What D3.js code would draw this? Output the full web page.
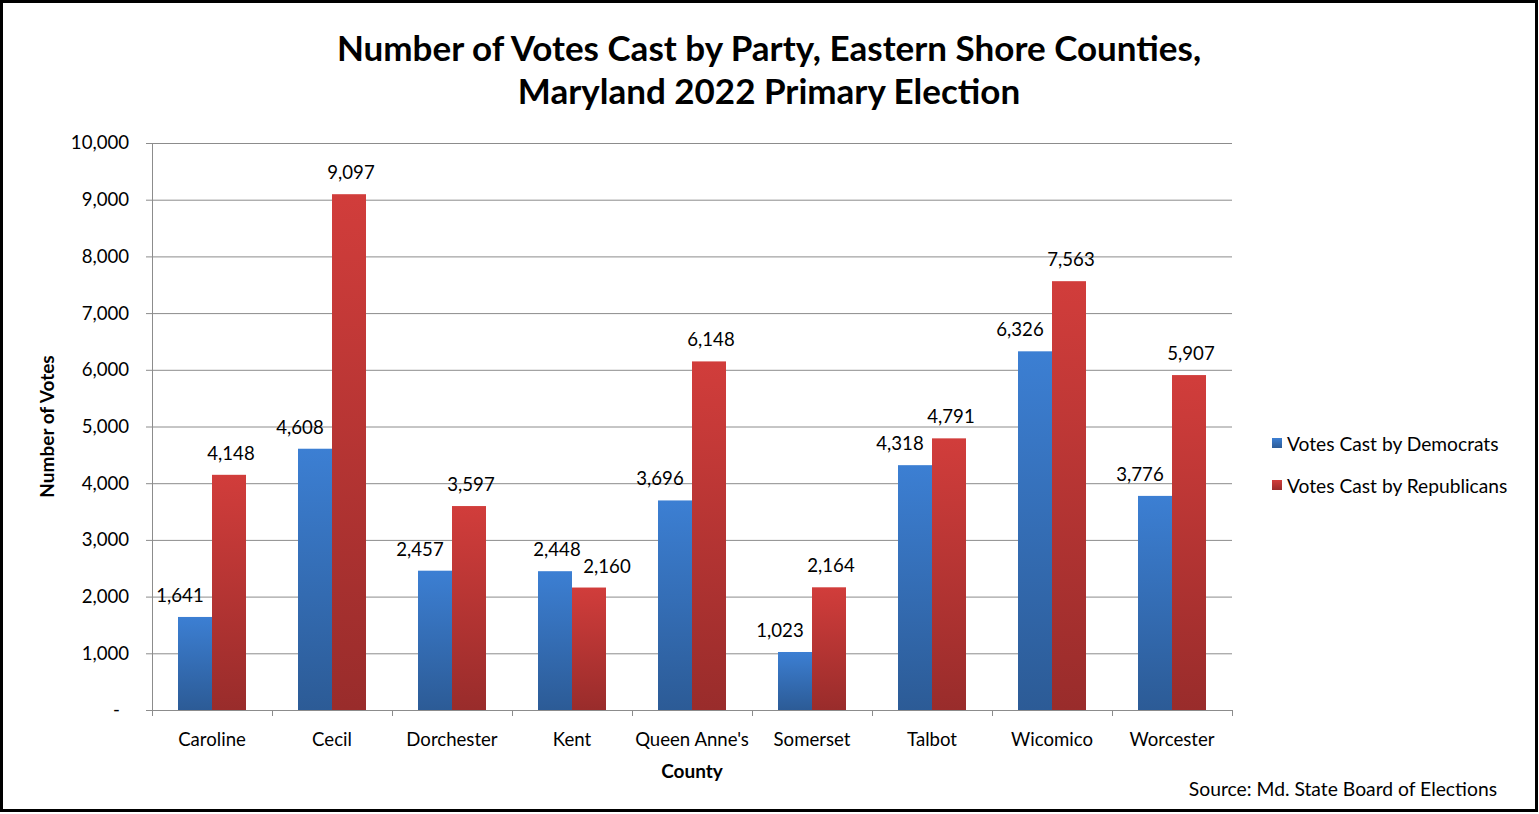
<!DOCTYPE html>
<html>
<head>
<meta charset="utf-8">
<script src="https://cdn.jsdelivr.net/npm/d3@7"></script>
<style>
  body { margin: 0; background: #fff; }
  svg { display: block; font-family: Lato, "Open Sans", sans-serif; }
</style>
</head>
<body>
<svg id="chart" width="1539" height="814"></svg>
<script>
// chart data
const counties = ["Caroline", "Cecil", "Dorchester", "Kent", "Queen Anne's", "Somerset", "Talbot", "Wicomico", "Worcester"];
const democrats = [1641, 4608, 2457, 2448, 3696, 1023, 4318, 6326, 3776];
const republicans = [4148, 9097, 3597, 2160, 6148, 2164, 4791, 7563, 5907];
const seriesNames = ["Votes Cast by Democrats", "Votes Cast by Republicans"];
const yTicks = [0, 1000, 2000, 3000, 4000, 5000, 6000, 7000, 8000, 9000, 10000];

const width = 1539, height = 814;
const margin = { top: 143, left: 152, right: 307, bottom: 104 };
const plotW = width - margin.left - margin.right;
const plotH = height - margin.top - margin.bottom;
const FONT = "Lato, 'Open Sans', sans-serif";

const svg = d3.select("#chart");

// outer border
svg.append("rect")
  .attr("x", 1.5).attr("y", 1.5)
  .attr("width", width - 4).attr("height", height - 5)
  .attr("fill", "#fff").attr("stroke", "#000").attr("stroke-width", 3);

// gradients
const defs = svg.append("defs");
const grads = [
  { id: "gDem", top: "#3c7fd3", bottom: "#2c5b96" },
  { id: "gRep", top: "#d13d3b", bottom: "#992c2b" }
];
grads.forEach(g => {
  const lg = defs.append("linearGradient").attr("id", g.id)
    .attr("x1", 0).attr("y1", 0).attr("x2", 0).attr("y2", 1);
  lg.append("stop").attr("offset", "0%").attr("stop-color", g.top);
  lg.append("stop").attr("offset", "100%").attr("stop-color", g.bottom);
});

// title
svg.append("text")
  .attr("x", 769).attr("y", 61)
  .attr("text-anchor", "middle")
  .style("font-size", "35px").style("font-weight", "bold")
  .selectAll("tspan")
  .data(["Number of Votes Cast by Party, Eastern Shore Counties,", "Maryland 2022 Primary Election"])
  .enter().append("tspan")
    .attr("x", 769)
    .attr("dy", (d, i) => i ? 43 : 0)
    .text(d => d);

const g = svg.append("g").attr("transform", `translate(${margin.left},${margin.top})`);

const x0 = d3.scaleBand().domain(counties).range([0, plotW]).padding(0);
const x1 = d3.scaleBand().domain([0, 1]).range([0, 68]);
const barOffset = (x0.bandwidth() - 68) / 2;

const y = d3.scaleLinear().domain([0, 10000]).range([plotH, 0]);

// gridlines
g.append("g")
  .selectAll("line")
  .data(yTicks.slice(1))
  .enter().append("line")
    .attr("x1", 0).attr("x2", plotW)
    .attr("y1", d => y(d) + 0.5).attr("y2", d => y(d) + 0.5)
    .attr("stroke", "#8c8c8c").attr("stroke-width", 1);

// y axis
const fmt = d3.format(",");
const yAxis = g.append("g")
  .call(d3.axisLeft(y).tickValues(yTicks).tickSize(6).tickPadding(17)
    .tickFormat(d => d === 0 ? "-" : fmt(d)));
yAxis.select(".domain").attr("stroke", "#8c8c8c");
yAxis.selectAll(".tick line").attr("stroke", "#8c8c8c");
yAxis.selectAll("text").style("font-size", "18.6px").attr("fill", "#000")
  .attr("font-family", FONT);
yAxis.selectAll(".tick").filter(d => d === 0).select("text").attr("dx", -9);

// bars
const rows = counties.map((c, i) => ({ county: c, vals: [democrats[i], republicans[i]] }));
const groups = g.selectAll(".county")
  .data(rows)
  .enter().append("g")
    .attr("class", "county")
    .attr("transform", d => `translate(${x0(d.county) + barOffset},0)`);

groups.selectAll("rect")
  .data(d => d.vals.map((v, k) => ({ v, k })))
  .enter().append("rect")
    .attr("x", d => x1(d.k))
    .attr("width", x1.bandwidth())
    .attr("y", d => y(d.v))
    .attr("height", d => plotH - y(d.v))
    .attr("fill", d => d.k === 0 ? "url(#gDem)" : "url(#gRep)");

// data labels, nudged away from a taller neighbour like Excel does
groups.each(function (d) {
  const grp = d3.select(this);
  d.vals.forEach((v, k) => {
    const other = d.vals[1 - k];
    let dx = 2;
    if (k === 0 && other > v) dx = -15;
    if (k === 1 && other > v) dx = 18;
    grp.append("text")
      .attr("x", x1(k) + x1.bandwidth() / 2 + dx)
      .attr("y", y(v) - 15)
      .attr("text-anchor", "middle")
      .style("font-size", "18.6px")
      .text(fmt(v));
  });
});

// x axis
const xAxis = g.append("g")
  .attr("transform", `translate(0,${plotH})`)
  .call(d3.axisBottom(x0).tickSize(0).tickPadding(23));
xAxis.select(".domain").attr("stroke", "#8c8c8c");
xAxis.selectAll("text").style("font-size", "18.6px").attr("fill", "#000")
  .attr("font-family", FONT);
xAxis.selectAll(".sep")
  .data(d3.range(counties.length + 1))
  .enter().append("line")
    .attr("class", "sep")
    .attr("x1", i => i * x0.bandwidth() + 0.5).attr("x2", i => i * x0.bandwidth() + 0.5)
    .attr("y1", 0).attr("y2", 6)
    .attr("stroke", "#8c8c8c");

// axis titles
svg.append("text")
  .attr("x", margin.left + plotW / 2).attr("y", 778)
  .attr("text-anchor", "middle")
  .style("font-size", "19px").style("font-weight", "bold")
  .text("County");

svg.append("text")
  .attr("transform", `translate(54,${margin.top + plotH / 2}) rotate(-90)`)
  .attr("text-anchor", "middle")
  .style("font-size", "19px").style("font-weight", "bold")
  .text("Number of Votes");

// legend
const legend = svg.append("g").attr("transform", "translate(1272,438)");
seriesNames.forEach((name, i) => {
  const item = legend.append("g").attr("transform", `translate(0,${i * 42})`);
  item.append("rect").attr("width", 10).attr("height", 10)
    .attr("fill", i === 0 ? "url(#gDem)" : "url(#gRep)");
  item.append("text").attr("x", 15).attr("y", 13)
    .style("font-size", "19.2px").text(name);
});

// source note
svg.append("text")
  .attr("x", 1497).attr("y", 796)
  .attr("text-anchor", "end")
  .style("font-size", "19.3px")
  .text("Source: Md. State Board of Elections");
</script>
</body>
</html>
